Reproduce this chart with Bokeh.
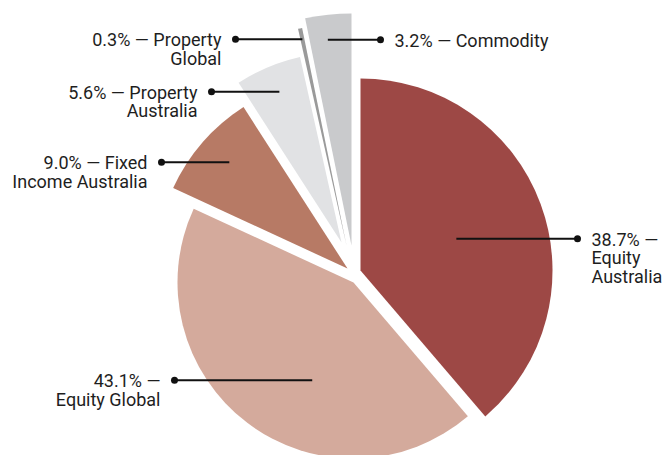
import numpy as np
from bokeh.plotting import figure
from bokeh.models import Range1d, ColumnDataSource
from bokeh.core.properties import value
from bokeh.embed import file_html
from bokeh.resources import INLINE

# ---- data ----
names = ["Equity Australia", "Equity Global", "Fixed Income Australia",
         "Property Australia", "Property Global", "Commodity"]
shares = [38.7, 43.1, 9.0, 5.6, 0.3, 3.2]
# how each name is wrapped after the "xx.x% —" head
name_wrap = [["", "Equity", "Australia"],
             ["", "Equity Global"],
             ["Fixed", "Income Australia"],
             ["Property", "Australia"],
             ["Property", "Global"],
             ["Commodity"]]

# ---- style / layout (pixels) ----
colors = ["#9d4845", "#d4aa9c", "#b77a65", "#e1e2e4", "#9a9a9a", "#c9cacc"]
apex_x = [360, 353, 347, 341, 346, 351]
apex_y = [270, 282, 268, 242, 245, 245]
radii = [192, 176, 192, 190, 222, 232]
lead_r = [101, 106, 159, 163, 211, 207]
lead_shift = [1.9, -14.2, 1.0, 0.3, 0.0, -0.8]
dot_x = [577, 174, 161, 211, 235, 380]
side = [1, -1, -1, -1, -1, 1]
FONT = "Roboto"
FSIZE = 18
LINE_H = 18.5
BASE_OFF = 0.5

W, H = 667, 455
p = figure(width=W, height=H, output_backend="svg", toolbar_location=None,
           x_range=Range1d(0, W), y_range=Range1d(-H, 0),
           min_border=0)
p.axis.visible = False
p.grid.visible = False
p.outline_line_color = None
p.background_fill_color = "white"
p.border_fill_color = "white"

total = sum(shares)
cum = np.concatenate([[0.0], np.cumsum(shares)]) / total * 360.0

wx, wy, wr, ws, we, wc = [], [], [], [], [], []
sx0, sy0, sx1, sy1 = [], [], [], []
tx, ty, tt, ta = [], [], [], []
for i in range(len(shares)):
    t1, t2 = cum[i], cum[i + 1]
    wx.append(apex_x[i]); wy.append(-apex_y[i]); wr.append(radii[i])
    ws.append(np.radians(90 - t2)); we.append(np.radians(90 - t1))
    wc.append(colors[i])
    mid = np.radians((t1 + t2) / 2 + lead_shift[i])
    ix = apex_x[i] + lead_r[i] * np.sin(mid)
    iy = apex_y[i] - lead_r[i] * np.cos(mid)
    sx0.append(ix); sy0.append(-iy); sx1.append(dot_x[i]); sy1.append(-iy)
    head = f"{shares[i]:.1f}% \u2014"
    lines = [head + (" " + name_wrap[i][0] if name_wrap[i][0] else "")] + name_wrap[i][1:]
    for k, ln in enumerate(lines):
        tx.append(dot_x[i] + side[i] * 14)
        ty.append(-(iy + BASE_OFF + k * LINE_H))
        tt.append(ln)
        ta.append("left" if side[i] > 0 else "right")

p.wedge(x="x", y="y", radius="r", start_angle="s", end_angle="e",
        fill_color="c", line_color=None,
        source=ColumnDataSource(dict(x=wx, y=wy, r=wr, s=ws, e=we, c=wc)))
p.segment(x0=sx0, y0=sy0, x1=sx1, y1=sy1, line_color="#111111", line_width=2)
p.scatter(x=sx1, y=sy1, size=7, fill_color="#111111", line_color=None)
p.text(x="x", y="y", text="t", text_align="a", text_baseline="alphabetic",
       text_font=value(FONT), text_font_size=f"{FSIZE}px", text_color="#1e1e1e",
       source=ColumnDataSource(dict(x=tx, y=ty, t=tt, a=ta)))

open("out.html", "w").write(file_html(p, INLINE))
